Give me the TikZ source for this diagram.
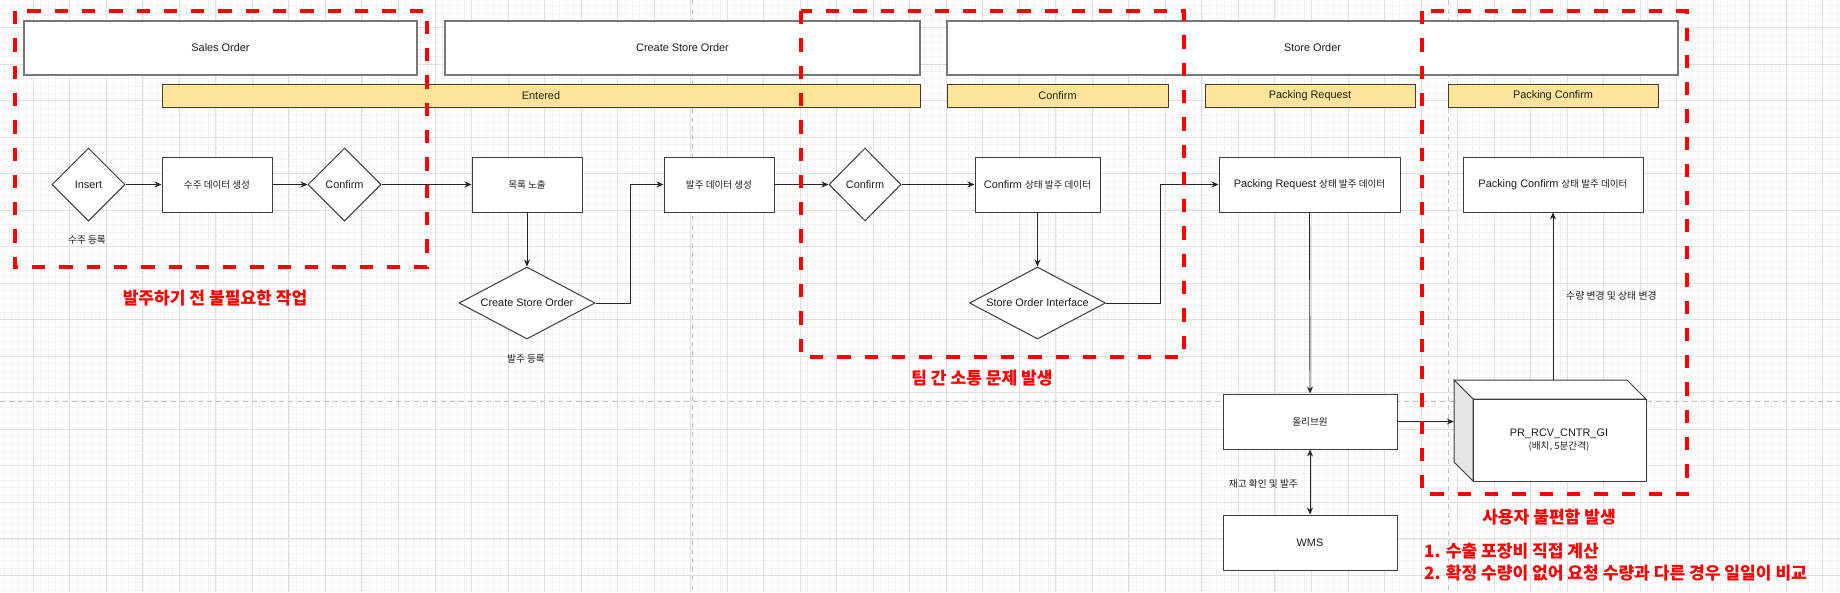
\documentclass[tikz,border=0pt]{standalone}
\usepackage{fontspec}
\setmainfont{Liberation Sans}
\newfontfamily\kr{Noto Sans CJK KR}[Scale=0.88]
\usetikzlibrary{shapes.geometric,arrows.meta}
\definecolor{barfill}{RGB}{255,229,153}
\definecolor{redd}{RGB}{255,0,0}
\definecolor{gmaj}{RGB}{224,224,224}
\definecolor{gmin}{RGB}{243,243,243}
\definecolor{guide}{RGB}{195,195,195}
\definecolor{hdrline}{RGB}{120,120,120}
\definecolor{boxline}{RGB}{60,60,60}
\definecolor{txt}{RGB}{30,30,30}
\begin{document}
\begin{tikzpicture}[x=1pt,y=-1pt,
  nfont/.style={font=\fontsize{10.9}{12.5}\selectfont},
  hdr/.style={draw=hdrline, line width=1.2pt, fill=white, rectangle, inner sep=0pt, nfont, text=txt, minimum height=54pt},
  bar/.style={draw=boxline, line width=1pt, fill=barfill, rectangle, inner sep=0pt, nfont, text=txt, minimum height=23pt},
  proc/.style={draw=boxline, line width=1pt, fill=white, rectangle, inner sep=0pt, nfont, text=txt, minimum height=55pt, align=center},
  dia/.style={draw=boxline, line width=1pt, fill=white, diamond, inner sep=0pt, nfont, text=txt},
  conn/.style={draw=black!85, line width=0.9pt, -{Stealth[length=7pt,width=6pt]}},
  dconn/.style={draw=black!85, line width=0.9pt, {Stealth[length=7pt,width=6pt]}-{Stealth[length=7pt,width=6pt]}},
  lbl/.style={font=\kr\fontsize{11}{13}\selectfont, text=txt, inner sep=0pt},
  warn/.style={font=\kr\bfseries\fontsize{19.4}{22}\selectfont, text=redd, inner sep=0pt},
  redbox/.style={draw=redd, line width=4pt, dash pattern=on 13.3pt off 14pt},
  gminor/.style={draw=gmin, line width=0.7pt},
  gmajor/.style={draw=gmaj, line width=1pt},
  guideline/.style={draw=guide, line width=0.9pt, dash pattern=on 5pt off 4pt},
  cubeface/.style={draw=boxline, line width=1pt}
]
\useasboundingbox (0,0) rectangle (1840,592);
\fill[white] (0,0) rectangle (1840,592);
% grid
\foreach \j in {-4,...,248} {\draw[gminor] ({33.3+7.304*\j},0) -- ({33.3+7.304*\j},592);}
\foreach \j in {-3,...,77} {\draw[gminor] (0,{27.6+7.304*\j}) -- (1840,{27.6+7.304*\j});}
\foreach \k in {0,...,49} {\draw[gmajor] ({33.3+36.52*\k},0) -- ({33.3+36.52*\k},592);}
\foreach \k in {0,...,15} {\draw[gmajor] (0,{27.6+36.52*\k}) -- (1840,{27.6+36.52*\k});}
% page guides
\draw[guideline] (0,401.7) -- (1840,401.7);
\draw[guideline] (692,0) -- (692,592);
\draw[guideline] (1448.5,0) -- (1448.5,592);

% headers
\node[hdr, minimum width=393pt] (so) at (220.5,48) {Sales Order};
\node[hdr, minimum width=475pt] (cso) at (682.5,48) {Create Store Order};
\node[hdr, minimum width=731pt] (sto) at (1312.5,48) {Store Order};
% status bars
\node[bar, minimum width=758pt] (bent) at (541,95.5) {Entered};
\node[bar, minimum width=221pt] (bcon) at (1057.5,95.5) {Confirm};
\node[bar, minimum width=210pt] (bpr) at (1310,95.5) {Packing Request};
\node[bar, minimum width=210pt] (bpc) at (1553,95.5) {Packing Confirm};

% flow nodes
\node[dia, minimum width=73pt, minimum height=73pt] (ins) at (88.5,184.5) {\makebox[0pt]{Insert}};
\node[proc, minimum width=110pt] (sdg) at (217,184.5) {\kr 수주 데이터 생성};
\node[dia, minimum width=73pt, minimum height=73pt] (cf1) at (344.5,184.5) {\makebox[0pt]{Confirm}};
\node[proc, minimum width=110pt] (mok) at (527,184.5) {\kr 목록 노출};
\node[dia, minimum width=136pt, minimum height=72pt] (csod) at (527,303) {\makebox[0pt]{Create Store Order}};
\node[proc, minimum width=110pt] (bdg) at (719,184.5) {\kr 발주 데이터 생성};
\node[dia, minimum width=72pt, minimum height=73pt] (cf2) at (865,184.5) {\makebox[0pt]{Confirm}};
\node[proc, minimum width=125pt] (cfd) at (1037.5,184.5) {Confirm {\kr 상태 발주 데이터}};
\node[dia, minimum width=136pt, minimum height=72pt] (soi) at (1037.5,303) {\makebox[0pt]{Store Order Interface}};
\node[proc, minimum width=181pt] (prd) at (1309.5,184.5) {Packing Request {\kr 상태 발주 데이터}};
\node[proc, minimum width=180pt] (pcd) at (1553,184.5) {Packing Confirm {\kr 상태 발주 데이터}};
\node[proc, minimum width=174pt] (olv) at (1310,421.5) {\kr 올리브원};
\node[proc, minimum width=174pt] (wms) at (1310,542.5) {WMS};

% cube (batch)
\node[minimum width=192pt, minimum height=101pt, inner sep=0pt] (cube) at (1550,430.5) {};
\filldraw[cubeface, fill=white] (1454,380) -- (1627,380) -- (1646,399) -- (1473,399) -- cycle;
\filldraw[cubeface, fill=black!10] (1454,380) -- (1473,399) -- (1473,481) -- (1454,462) -- cycle;
\filldraw[cubeface, fill=white] (1473,399) rectangle (1646,481);
\node[nfont, text=txt, align=center, inner sep=0pt] (cubetxt) at (1559,440) {PR\_RCV\_CNTR\_GI\\{\kr (배치, 5분간격)}};

% connectors
\draw[conn] (ins.east) -- (sdg.west);
\draw[conn] (sdg.east) -- (cf1.west);
\draw[conn] (cf1.east) -- (mok.west);
\draw[conn] (mok.south) -- (csod.north);
\draw[conn] (csod.east) -- ++(35,0) |- (bdg.west);
\draw[conn] (bdg.east) -- (cf2.west);
\draw[conn] (cf2.east) -- (cfd.west);
\draw[conn] (cfd.south) -- (soi.north);
\draw[conn] (soi.east) -- ++(54.5,0) |- (prd.west);
\draw[conn] (prd.south) -- (olv.north);
\draw[dconn] (olv.south) -- (wms.north);
\draw[conn] (olv.east) -- (olv.east -| cube.west);
\draw[conn] (pcd.south |- cube.north) -- (pcd.south);

% labels
\node[lbl] (l1) at (87,240) {수주 등록};
\node[lbl] (l2) at (526,359) {발주 등록};
\node[lbl, anchor=east] (l3) at (1298,484) {재고 확인 및 발주};
\node[lbl, anchor=west, font=\kr\fontsize{11.2}{13}\selectfont] (l4) at (1566,296) {수량 변경 및 상태 변경};

% red highlight boxes
\draw[redbox] (15,11) rectangle (427,267);
\draw[redbox] (801,11) rectangle (1184,357);
\draw[redbox] (1422,11) rectangle (1687,494);

% red notes
\node[warn] (w1) at (215,298) {발주하기 전 불필요한 작업};
\node[warn] (w2) at (982,378) {팀 간 소통 문제 발생};
\node[warn] (w3) at (1549,517) {사용자 불편함 발생};
\node[warn, anchor=west] (w4) at (1424,551) {1. 수출 포장비 직접 계산};
\node[warn, anchor=west] (w5) at (1424,573) {2. 확정 수량이 없어 요청 수량과 다른 경우 일일이 비교};
\end{tikzpicture}
\end{document}
